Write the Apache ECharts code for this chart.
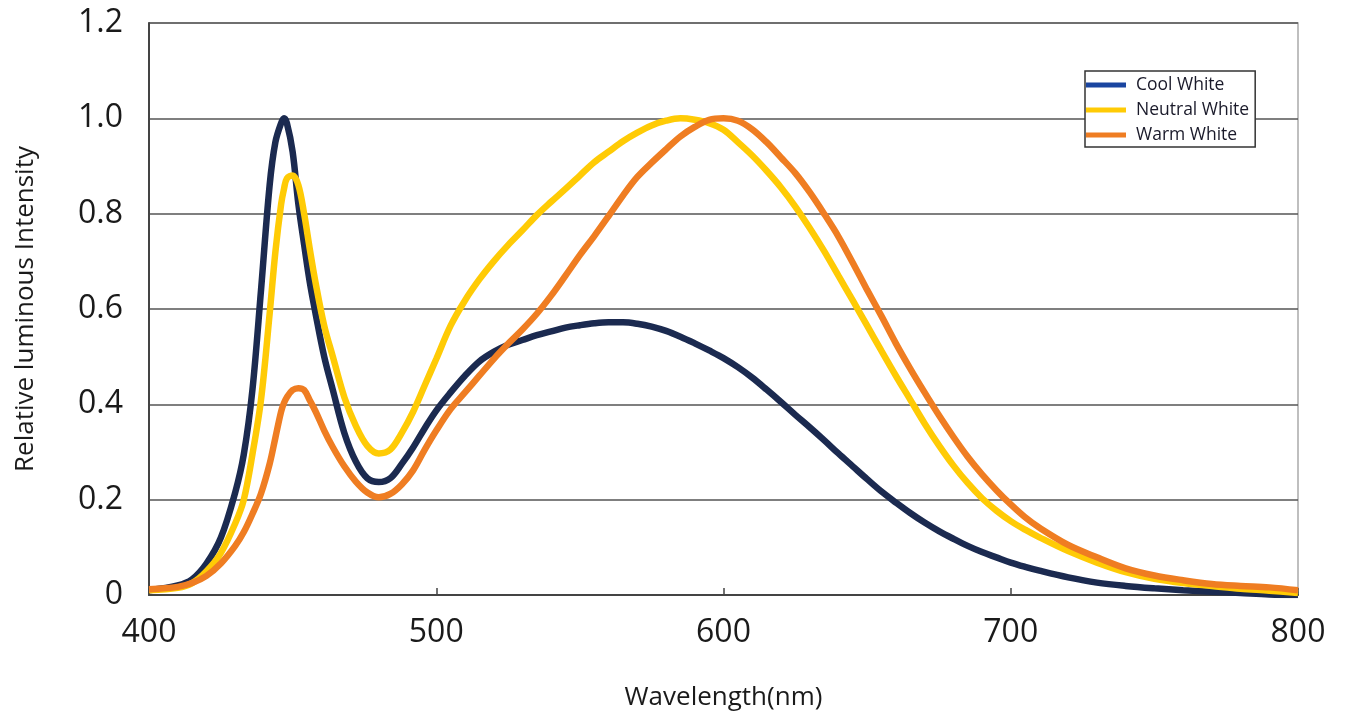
<!DOCTYPE html>
<html>
<head>
<meta charset="utf-8">
<script src="https://cdn.jsdelivr.net/npm/echarts@6/dist/echarts.min.js"></script>
<style>
html,body{margin:0;padding:0;background:#fff;}
#chart{width:1346px;height:717px;}
</style>
</head>
<body>
<div id="chart"></div>
<script>
const wavelengths = [400,410,415,420,425,430,433,436,439,442,444,446,447,448,450,452,454,456,458,461,464,468,472,476,480,484,488,492,496,500,505,510,515,520,525,530,535,540,545,550,555,560,565,570,575,580,585,590,595,600,605,610,615,620,625,630,635,640,645,650,655,660,665,670,675,680,685,690,695,700,705,710,720,730,740,750,760,770,780,790,800];

const coolWhite = [0.01,0.02,0.033,0.066,0.12,0.215,0.295,0.43,0.64,0.86,0.95,0.99,1.0,0.99,0.93,0.82,0.735,0.655,0.59,0.50,0.43,0.34,0.28,0.245,0.237,0.245,0.275,0.31,0.35,0.387,0.425,0.46,0.49,0.51,0.525,0.535,0.545,0.553,0.561,0.566,0.57,0.572,0.572,0.569,0.563,0.554,0.542,0.528,0.513,0.497,0.478,0.456,0.431,0.405,0.378,0.352,0.325,0.297,0.27,0.243,0.217,0.194,0.172,0.152,0.134,0.118,0.103,0.09,0.079,0.068,0.059,0.051,0.037,0.026,0.019,0.014,0.01,0.007,0.004,0.001,0];

const neutralWhite = [0.01,0.015,0.025,0.05,0.088,0.15,0.2,0.295,0.41,0.59,0.72,0.82,0.852,0.874,0.88,0.86,0.80,0.725,0.655,0.565,0.50,0.415,0.355,0.313,0.297,0.305,0.34,0.385,0.44,0.495,0.565,0.618,0.662,0.70,0.734,0.765,0.797,0.825,0.852,0.88,0.908,0.93,0.952,0.97,0.985,0.995,1.0,0.997,0.99,0.976,0.95,0.922,0.89,0.855,0.815,0.77,0.722,0.67,0.618,0.565,0.512,0.46,0.41,0.36,0.314,0.272,0.235,0.203,0.177,0.155,0.137,0.121,0.092,0.068,0.048,0.034,0.025,0.019,0.013,0.009,0.004];

const warmWhite = [0.012,0.017,0.025,0.04,0.066,0.103,0.132,0.17,0.213,0.275,0.33,0.385,0.403,0.415,0.43,0.434,0.43,0.408,0.385,0.345,0.31,0.27,0.238,0.215,0.205,0.212,0.232,0.262,0.305,0.345,0.39,0.425,0.46,0.495,0.527,0.557,0.59,0.628,0.67,0.713,0.753,0.795,0.838,0.877,0.907,0.935,0.962,0.982,0.997,1.0,0.995,0.977,0.95,0.918,0.885,0.845,0.8,0.752,0.697,0.64,0.585,0.528,0.475,0.425,0.377,0.332,0.29,0.253,0.22,0.19,0.163,0.141,0.105,0.079,0.056,0.041,0.031,0.023,0.019,0.016,0.01];

const seriesNames = ['Cool White','Neutral White','Warm White'];
const lineColors = ['#1b2a50','#ffcb05','#ef7d22'];
const legendColors = ['#1a45a0','#ffcb05','#ef7d22'];
const xTitle = 'Wavelength(nm)';
const yTitle = 'Relative luminous Intensity';

function pairs(vals){ return wavelengths.map((w,i)=>[w, vals[i]]); }
const allVals = [coolWhite, neutralWhite, warmWhite];

const chart = echarts.init(document.getElementById('chart'), null, {renderer:'canvas'});
chart.setOption({
  animation:false,
  backgroundColor:'#fff',
  grid:{left:149,right:48,top:23,bottom:122,show:true,borderColor:'#aaaaaa',borderWidth:1.5,backgroundColor:'transparent'},
  legend:{
    orient:'vertical',left:1085,top:71,
    backgroundColor:'#fff',borderColor:'#333',borderWidth:1.5,
    padding:[5,6,3,1],itemGap:7,
    icon:'rect',itemWidth:40,itemHeight:5,
    textStyle:{fontFamily:'Open Sans',fontSize:17.5,color:'#1a1a2a',padding:[0,0,0,5]},
    data:seriesNames.map((n,i)=>({name:n,itemStyle:{color:legendColors[i]}}))
  },
  xAxis:{
    type:'value',min:400,max:800,interval:100,
    name:xTitle,nameLocation:'middle',nameGap:90,
    nameTextStyle:{fontFamily:'Open Sans',fontSize:26,color:'#1a1a1a'},
    axisLine:{show:true,onZero:false,lineStyle:{color:'#444',width:2}},
    axisTick:{show:true,inside:true,length:7,lineStyle:{color:'#444',width:1.5}},
    axisLabel:{fontFamily:'Open Sans',fontSize:32,color:'#1a1a1a',margin:22},
    splitLine:{show:false}
  },
  yAxis:{
    type:'value',min:0,max:1.2,interval:0.2,
    name:yTitle,nameLocation:'middle',nameGap:110,
    nameTextStyle:{fontFamily:'Open Sans',fontSize:26,color:'#1a1a1a'},
    axisLine:{show:true,lineStyle:{color:'#444',width:2}},
    axisTick:{show:false},
    axisLabel:{fontFamily:'Open Sans',fontSize:32,color:'#1a1a1a',margin:26,
      formatter:v=> v===0 ? '0' : v.toFixed(1)},
    splitLine:{show:true,lineStyle:{color:'#555',width:1.5}}
  },
  series: seriesNames.map((n,i)=>({
    name:n,type:'line',data:pairs(allVals[i]),
    showSymbol:false,smooth:0.35,clip:true,
    lineStyle:{color:lineColors[i],width:6.5},
    itemStyle:{color:lineColors[i]},
    z:2+i
  }))
});
</script>
</body>
</html>
